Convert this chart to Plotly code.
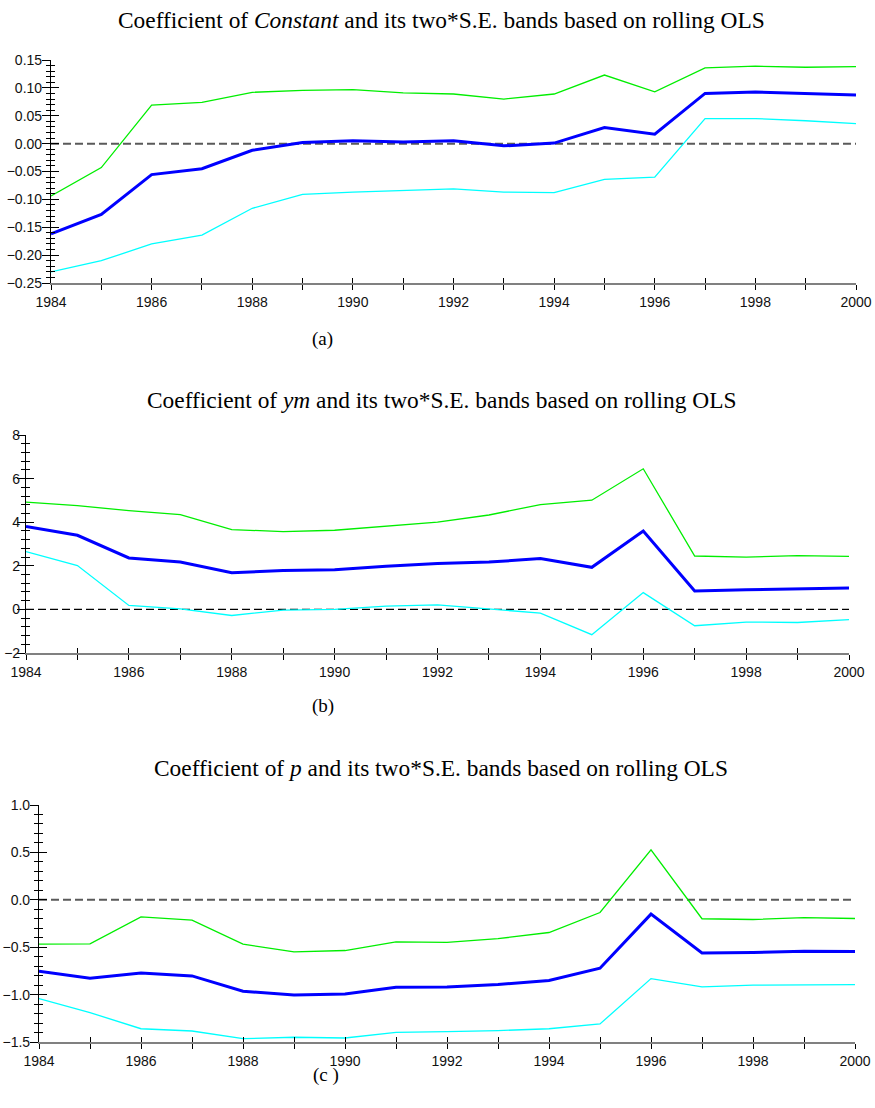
import plotly.graph_objects as go

# Rolling OLS estimates, 1984-2000, with upper/lower two*S.E. bands
years = list(range(1984, 2001))

const_upper = [-0.094, -0.043, 0.069, 0.074, 0.092, 0.0955, 0.097, 0.091, 0.089,
               0.080, 0.089, 0.123, 0.093, 0.136, 0.139, 0.137, 0.138]
const_coef = [-0.162, -0.127, -0.0555, -0.045, -0.012, 0.002, 0.005, 0.003, 0.005,
              -0.004, 0.001, 0.029, 0.017, 0.090, 0.0925, 0.0895, 0.087]
const_lower = [-0.230, -0.210, -0.180, -0.164, -0.116, -0.091, -0.087, -0.084, -0.081,
               -0.087, -0.088, -0.064, -0.060, 0.045, 0.045, 0.041, 0.036]

ym_upper = [4.92, 4.76, 4.53, 4.35, 3.66, 3.57, 3.63, 3.80, 4.00,
            4.33, 4.81, 5.01, 6.45, 2.45, 2.40, 2.47, 2.43]
ym_coef = [3.80, 3.40, 2.36, 2.17, 1.68, 1.78, 1.82, 1.98, 2.10,
           2.17, 2.33, 1.93, 3.60, 0.84, 0.90, 0.93, 0.98]
ym_lower = [2.65, 2.01, 0.18, 0.02, -0.28, -0.03, 0.00, 0.15, 0.21,
            0.02, -0.17, -1.16, 0.77, -0.75, -0.58, -0.60, -0.47]

p_upper = [-0.468, -0.465, -0.180, -0.215, -0.468, -0.550, -0.535, -0.444, -0.450,
           -0.410, -0.345, -0.134, 0.528, -0.200, -0.208, -0.187, -0.197]
p_coef = [-0.754, -0.827, -0.771, -0.803, -0.965, -1.003, -0.993, -0.923, -0.919,
          -0.894, -0.852, -0.722, -0.151, -0.560, -0.556, -0.542, -0.546]
p_lower = [-1.042, -1.190, -1.360, -1.384, -1.465, -1.450, -1.458, -1.398, -1.391,
           -1.380, -1.360, -1.310, -0.831, -0.919, -0.901, -0.894, -0.894]

titles = [
    "Coefficient of <i>Constant</i> and its two*S.E. bands based on rolling OLS",
    "Coefficient of <i>ym</i> and its two*S.E. bands based on rolling OLS",
    "Coefficient of <i>p</i> and its two*S.E. bands based on rolling OLS",
]
captions = ["(a)", "(b)", "(c )"]

W, H = 875, 1108

panels = [
    dict(upper=const_upper, coef=const_coef, lower=const_lower,
         yrange=[-0.25, 0.15], ydtick=0.05, yminor=0.01, yfmt=".2f",
         xdom=[51 / W, 856 / W], ydom=[1 - 283 / H, 1 - 60 / H],
         zcolor="#5a5a5a", zwidth=2, standoff=-3),
    dict(upper=ym_upper, coef=ym_coef, lower=ym_lower,
         yrange=[-2, 8], ydtick=2, yminor=0.4, yfmt="d",
         xdom=[26 / W, 849 / W], ydom=[1 - 653 / H, 1 - 435 / H],
         zcolor="#000000", zwidth=1.2, standoff=-6),
    dict(upper=p_upper, coef=p_coef, lower=p_lower,
         yrange=[-1.5, 1.0], ydtick=0.5, yminor=0.1, yfmt=".1f",
         xdom=[39 / W, 855 / W], ydom=[1 - 1042 / H, 1 - 805 / H],
         zcolor="#5a5a5a", zwidth=2, standoff=-3),
]
title_y = [20, 400, 768]
caption_y = [339, 706, 1075]
caption_x = [322, 323, 326]

GREEN = "#00ee00"
BLUE = "#0000ff"
CYAN = "#00ffff"
TICKFONT = dict(family="Liberation Sans, Arial, sans-serif", size=14, color="#111111")
SERIF = "Liberation Serif, Times New Roman, serif"

fig = go.Figure()
layout = {}
shapes = []
annotations = []

for i, pnl in enumerate(panels):
    n = i + 1
    sfx = "" if n == 1 else str(n)
    xa, ya = f"x{sfx}", f"y{sfx}"
    # overlay axes (ids 4..6) carry the inside half of the crossing ticks
    ov = n + 3

    for vals, color, width in ((pnl["upper"], GREEN, 1.3),
                               (pnl["lower"], CYAN, 1.3),
                               (pnl["coef"], BLUE, 3)):
        fig.add_trace(go.Scatter(x=years, y=vals, mode="lines",
                                 line=dict(color=color, width=width),
                                 xaxis=xa, yaxis=ya, showlegend=False,
                                 hoverinfo="x+y"))

    layout[f"xaxis{sfx}"] = dict(
        domain=pnl["xdom"], anchor=ya, range=[1984, 2000], dtick=2, tick0=1984,
        showgrid=False, zeroline=False, showline=True, linecolor="#808080",
        linewidth=1.5, ticks="outside", ticklen=5, tickcolor="black",
        tickwidth=1.2, tickfont=TICKFONT, ticklabelstandoff=0, automargin=False,
        minor=dict(dtick=1, ticks="outside", ticklen=5, tickcolor="black",
                   tickwidth=1.2, showgrid=False),
    )
    layout[f"yaxis{sfx}"] = dict(
        domain=pnl["ydom"], anchor=xa, range=pnl["yrange"], dtick=pnl["ydtick"],
        tick0=0, tickformat=pnl["yfmt"], showgrid=False, zeroline=False,
        showline=True, linecolor="black", linewidth=1.2, ticks="outside",
        ticklen=8, tickcolor="black", tickwidth=1.2, tickfont=TICKFONT,
        ticklabelstandoff=pnl["standoff"], automargin=False,
        minor=dict(dtick=pnl["yminor"], ticks="outside", ticklen=4,
                   tickcolor="black", tickwidth=1.2, showgrid=False),
    )
    layout[f"xaxis{ov}"] = dict(
        overlaying=xa, anchor=ya, domain=pnl["xdom"], range=[1984, 2000],
        dtick=2, tick0=1984, showgrid=False, zeroline=False, showline=False,
        showticklabels=False, ticks="inside", ticklen=5, tickcolor="black",
        tickwidth=1.2, automargin=False,
        minor=dict(dtick=1, ticks="inside", ticklen=5, tickcolor="black",
                   tickwidth=1.2, showgrid=False),
    )
    layout[f"yaxis{ov}"] = dict(
        overlaying=ya, anchor=xa, domain=pnl["ydom"], range=pnl["yrange"],
        dtick=pnl["ydtick"], tick0=0, showgrid=False, zeroline=False,
        showline=False, showticklabels=False, ticks="inside", ticklen=8,
        tickcolor="black", tickwidth=1.2, automargin=False,
        minor=dict(dtick=pnl["yminor"], ticks="inside", ticklen=4,
                   tickcolor="black", tickwidth=1.2, showgrid=False),
    )

    # dashed reference line at zero
    shapes.append(dict(type="line", xref=f"{xa} domain", yref=ya,
                       x0=0, x1=1, y0=0, y1=0, layer="below",
                       line=dict(color=pnl["zcolor"], width=pnl["zwidth"],
                                 dash="8px,4px")))

    annotations.append(dict(text=titles[i], xref="paper", yref="paper",
                            x=441 / W, y=1 - title_y[i] / H,
                            xanchor="center", yanchor="middle", showarrow=False,
                            font=dict(family=SERIF, size=23.4, color="black")))
    annotations.append(dict(text=captions[i], xref="paper", yref="paper",
                            x=caption_x[i] / W, y=1 - caption_y[i] / H,
                            xanchor="center", yanchor="middle", showarrow=False,
                            font=dict(family=SERIF, size=19, color="black")))

# empty traces so the overlay axes are drawn
for ov in (4, 5, 6):
    fig.add_trace(go.Scatter(x=[None], y=[None], xaxis=f"x{ov}", yaxis=f"y{ov}",
                             showlegend=False, hoverinfo="skip"))

fig.update_layout(
    width=W, height=H, autosize=False,
    margin=dict(l=0, r=0, t=0, b=0, pad=0, autoexpand=False),
    paper_bgcolor="white", plot_bgcolor="white",
    shapes=shapes, annotations=annotations, **layout,
)

fig.write_html("out.html", config={"responsive": False})
